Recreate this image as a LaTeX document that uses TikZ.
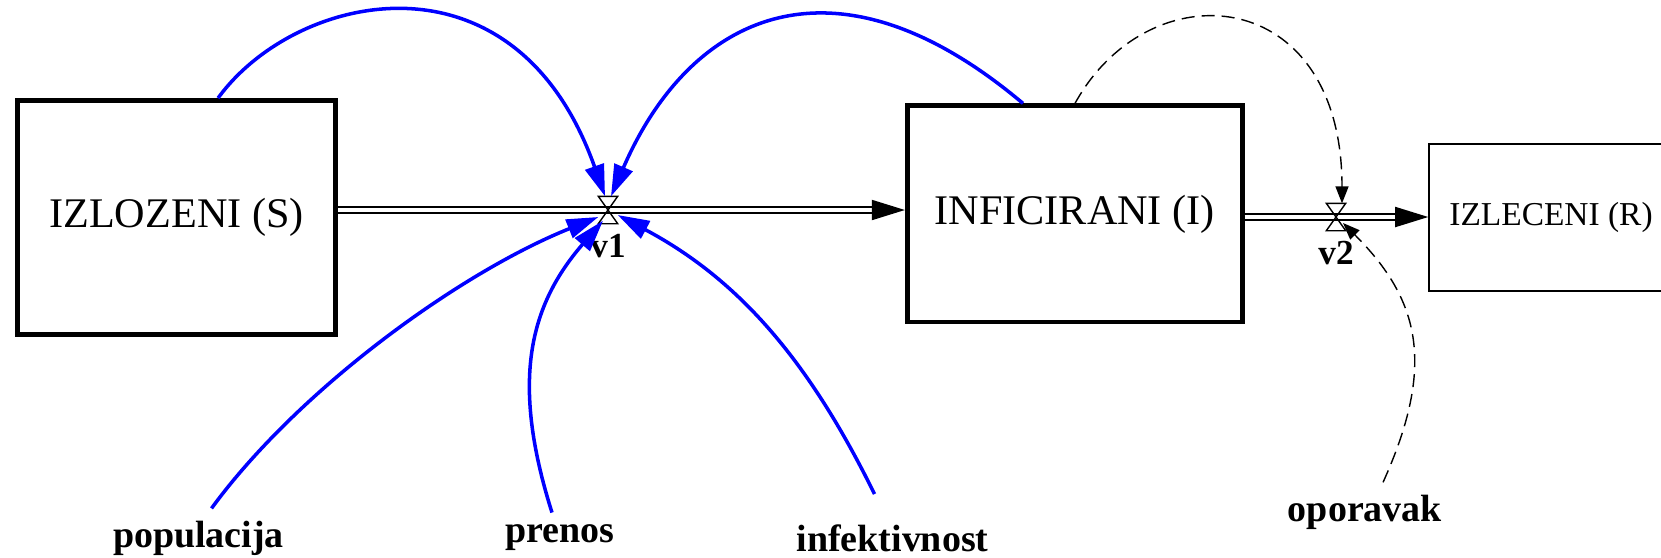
\documentclass[tikz,border=0pt]{standalone}
\usepackage{fontspec}
\setmainfont{Liberation Serif}
\usetikzlibrary{arrows.meta,positioning}

\begin{document}
\begin{tikzpicture}
[
    x=0.01cm, y=-0.01cm,
    stock/.style={draw, line width=1.4pt, inner sep=0, font=\fontsize{12}{14}\selectfont},
    sink/.style={draw, line width=0.4pt, inner sep=0, font=\fontsize{9.5}{11}\selectfont},
    valve/.style={inner sep=0, minimum width=0.18cm, minimum height=0.26cm},
    vname/.style={inner sep=0, font=\bfseries\fontsize{10}{12}\selectfont},
    aux/.style={font=\bfseries\fontsize{10.8}{13}\selectfont},
    pipe/.style={double, line width=0.5pt, double distance=1.2pt, -{Triangle[length=9.4pt,width=5.7pt]}},
    link/.style={blue, line width=1pt, -{Triangle[length=9pt,width=5.5pt]}},
    dlink/.style={line width=0.4pt, dash pattern=on 3.7pt off 2pt, -{Triangle[length=4.8pt,width=3.7pt]}}
]
    \useasboundingbox (0,0) rectangle (1661,557);

    % stocks
    \node [stock, minimum width=3.18cm, minimum height=2.34cm] (S) at (176.5,217.6) {IZLOZENI (S)};
    \node [stock, minimum width=3.345cm, minimum height=2.16cm] (I) at (1074.7,213.9) {INFICIRANI (I)};
    \node [sink, minimum width=2.44cm, minimum height=1.47cm] (R) at (1551,217.5) {IZLECENI (R)};

    % valves
    \node [valve] (v1) at (608,210) {};
    \node [valve] (v2) at (1336,217) {};
    \node [vname, below=0.1cm of v1] (v1name) {v1};
    \node [vname, below=0.1cm of v2] (v2name) {v2};

    % flows
    \draw [pipe] (S.east |- v1) -- (I.west |- v1);
    \draw [pipe] (I.east |- v2) -- (R.west |- v2);
    \foreach \v in {v1,v2}
        \draw [line width=0.4pt] (\v.north west) -- (\v.south east) -- (\v.south west) -- (\v.north east) -- cycle;

    % auxiliaries
    \node [aux] (pop) at (198.5,538) {populacija};
    \node [aux] (pre) at (560,538) {prenos};
    \node [aux] (inf) at (892.5,538) {infektivnost};
    \node [aux] (opo) at (1365,512) {oporavak};

    % links
    \draw [link] ([xshift=2.03cm]S.north west) .. controls (295,-8) and (515,-58) .. ([xshift=-0.03cm]v1.north);
    \draw [link] ([xshift=1.18cm]I.north west) .. controls (834,-56) and (690,14) .. ([xshift=0.03cm]v1.north);
    \draw [link] ([xshift=0.13cm]pop.north) .. controls (298,390) and (459,273) .. ([yshift=-0.07cm]v1.west);
    \draw [link] ([xshift=-0.08cm]pre.north) .. controls (510,380) and (530,305) .. ([xshift=-0.05cm,yshift=0.03cm]v1.south);
    \draw [link] ([xshift=-0.18cm,yshift=0.18cm]inf.north) .. controls (811,365) and (742,281) .. ([yshift=-0.05cm]v1.east);
    \draw [dlink] ([xshift=1.7cm]I.north west) .. controls (1149,-31) and (1342,-17) .. ([xshift=0.06cm]v2.north);
    \draw [dlink] ([xshift=0.18cm]opo.north) .. controls (1436,365) and (1420,300) .. ([xshift=0.07cm,yshift=-0.06cm]v2.center);
\end{tikzpicture}
\end{document}
